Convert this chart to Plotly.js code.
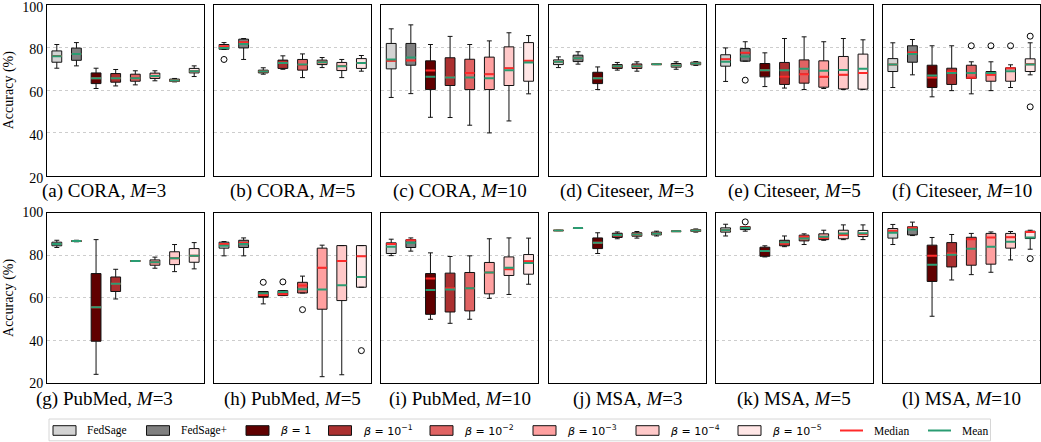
<!DOCTYPE html>
<html>
<head>
<meta charset="utf-8">
<script src="https://cdn.plot.ly/plotly-3.0.1.min.js"></script>
<style>
  html, body { margin: 0; padding: 0; background: #fff; }
  #chart { width: 1041px; height: 442px; }
</style>
</head>
<body>
<div id="chart"></div>
<script>
// Methods compared in every panel (box order left to right)
const categories = ['FedSage', 'FedSage+', 'β=1', 'β=1e-1', 'β=1e-2', 'β=1e-3', 'β=1e-4', 'β=1e-5'];
const legendLabels = ['FedSage', 'FedSage+', '<i>β</i> = 1', '<i>β</i> = 10<sup>−1</sup>',
  '<i>β</i> = 10<sup>−2</sup>', '<i>β</i> = 10<sup>−3</sup>', '<i>β</i> = 10<sup>−4</sup>', '<i>β</i> = 10<sup>−5</sup>'];

// Panels: dataset and number of clients M
const panelLetters = ['a', 'b', 'c', 'd', 'e', 'f', 'g', 'h', 'i', 'j', 'k', 'l'];
const datasets = ['CORA', 'CORA', 'CORA', 'Citeseer', 'Citeseer', 'Citeseer',
  'PubMed', 'PubMed', 'PubMed', 'MSA', 'MSA', 'MSA'];
const clients = [3, 5, 10, 3, 5, 10, 3, 5, 10, 3, 5, 10];
const yTicks = [20, 40, 60, 80, 100];

// Box statistics, accuracy (%), one row per panel, one column per method
const lowWhisker = [
  [70.3, 71.4, 60.8, 62.0, 62.5, 64.4, 63.9, 66.4],
  [79.1, 74.4, 67.5, 69.8, 65.9, 70.6, 65.9, 68.9],
  [56.6, 58.4, 47.3, 47.2, 43.6, 40.0, 45.6, 58.3],
  [70.6, 72.2, 60.3, 69.4, 68.9, 72.0, 69.8, 71.6],
  [64.1, 73.6, 61.7, 61.0, 60.3, 60.8, 60.3, 60.3],
  [61.25, 67.2, 56.9, 59.8, 58.3, 59.8, 61.25, 67.2],
  [83.6, 86.3, 24.2, 59.5, 77.1, 73.9, 72.3, 73.6],
  [79.7, 79.7, 57.2, 61.1, 62.3, 23.1, 24.0, 65.0],
  [79.8, 81.9, 50.0, 48.1, 50.0, 59.8, 61.6, 66.4],
  [91.5, 92.6, 80.8, 87.7, 88.0, 89.0, 91.1, 90.8],
  [89.0, 91.25, 79.2, 84.0, 85.0, 87.0, 87.3, 87.3],
  [85.0, 89.2, 51.4, 68.4, 70.9, 72.0, 77.8, 82.8]
];
const q1 = [
  [73.1, 74.0, 63.1, 63.75, 64.2, 65.5, 64.1, 68.1],
  [79.2, 79.8, 68.1, 70.2, 69.4, 72.0, 69.2, 70.2],
  [70.0, 71.7, 60.3, 62.2, 60.3, 60.3, 62.2, 64.2],
  [72.0, 73.4, 63.1, 70.2, 70.2, 72.1, 70.8, 71.9],
  [71.25, 73.6, 66.25, 62.7, 63.3, 61.4, 60.6, 60.5],
  [68.75, 73.1, 61.25, 62.7, 65.5, 64.2, 64.2, 68.75],
  [84.4, 86.4, 39.7, 63.0, 77.2, 75.3, 75.6, 76.7],
  [83.3, 83.6, 60.3, 61.1, 62.3, 54.7, 58.75, 65.0],
  [80.8, 83.6, 52.3, 53.4, 53.9, 61.9, 70.5, 71.1],
  [91.55, 92.65, 83.1, 88.3, 88.9, 89.5, 91.2, 91.1],
  [90.8, 92.0, 79.5, 84.4, 86.7, 87.3, 87.7, 88.75],
  [88.0, 89.5, 67.7, 74.5, 75.3, 75.8, 83.3, 87.8]
];
const median = [
  [76.0, 77.0, 65.6, 65.6, 65.6, 66.6, 64.5, 68.9],
  [80.6, 82.5, 68.75, 72.8, 71.8, 73.1, 71.3, 72.7],
  [73.75, 73.9, 69.2, 66.1, 68.1, 67.5, 70.3, 73.75],
  [73.3, 75.0, 65.6, 71.25, 71.25, 72.2, 71.6, 72.5],
  [74.5, 77.5, 69.4, 66.25, 67.5, 66.25, 67.2, 68.0],
  [72.0, 77.7, 65.9, 68.9, 65.8, 67.2, 70.3, 72.2],
  [85.3, 86.6, 55.6, 66.6, 77.3, 76.7, 78.6, 79.8],
  [85.3, 85.8, 61.4, 61.7, 65.8, 74.1, 77.3, 79.5],
  [85.2, 87.0, 69.1, 64.5, 64.5, 71.9, 73.4, 77.2],
  [91.6, 92.7, 85.8, 89.5, 89.7, 90.0, 91.25, 91.6],
  [91.7, 93.0, 82.0, 85.5, 88.6, 88.1, 89.5, 89.8],
  [91.4, 92.8, 79.8, 80.8, 87.5, 88.3, 88.4, 90.9]
];
const q3 = [
  [78.4, 79.7, 68.1, 67.8, 67.5, 68.0, 65.2, 70.2],
  [81.4, 83.9, 69.4, 74.1, 74.4, 74.1, 73.0, 74.8],
  [81.9, 81.9, 73.75, 75.2, 74.5, 75.5, 80.3, 82.3],
  [74.2, 76.4, 68.4, 72.0, 72.3, 72.3, 72.5, 73.1],
  [76.6, 79.5, 72.5, 73.0, 74.2, 73.75, 75.8, 76.9],
  [74.8, 80.8, 71.7, 70.3, 71.7, 68.75, 70.5, 74.7],
  [86.1, 86.8, 71.4, 69.8, 77.4, 77.8, 81.6, 83.1],
  [86.1, 87.0, 63.0, 63.4, 67.3, 83.3, 84.5, 84.5],
  [85.8, 87.3, 71.4, 71.6, 71.9, 76.6, 79.2, 80.3],
  [91.65, 92.75, 88.1, 90.3, 90.5, 90.8, 91.3, 92.0],
  [92.8, 93.4, 83.75, 87.0, 89.4, 90.0, 91.7, 91.6],
  [92.5, 93.3, 84.7, 85.9, 88.4, 90.2, 90.2, 91.25]
];
const highWhisker = [
  [81.4, 82.3, 70.3, 69.7, 69.1, 69.1, 65.5, 71.4],
  [82.3, 84.2, 70.5, 76.1, 77.0, 75.3, 74.4, 76.25],
  [88.75, 90.6, 81.4, 85.2, 81.4, 83.1, 86.9, 85.6],
  [75.6, 78.0, 70.9, 73.0, 73.3, 72.4, 73.3, 73.4],
  [79.8, 82.7, 77.5, 84.2, 85.0, 82.7, 84.2, 83.6],
  [82.2, 83.75, 80.8, 80.8, 73.3, 73.3, 71.9, 82.2],
  [87.0, 87.0, 87.3, 73.4, 77.5, 79.1, 85.0, 85.9],
  [86.4, 88.1, 63.0, 63.4, 70.2, 84.7, 84.5, 84.5],
  [87.5, 88.1, 81.1, 79.4, 79.7, 87.7, 88.1, 88.0],
  [91.7, 92.8, 90.5, 90.9, 91.1, 91.25, 91.4, 92.3],
  [94.5, 93.4, 84.4, 89.0, 90.0, 91.7, 94.2, 94.2],
  [94.4, 95.5, 88.3, 89.7, 90.2, 90.9, 91.1, 91.7]
];
const mean = [
  [75.9, 77.0, 65.6, 65.6, 65.6, 66.6, 64.5, 68.9],
  [79.8, 81.6, 68.75, 72.7, 72.0, 73.1, 71.25, 72.7],
  [74.4, 75.3, 66.25, 65.9, 65.9, 65.6, 69.4, 73.0],
  [73.3, 75.0, 65.6, 71.25, 71.25, 72.2, 71.6, 72.5],
  [73.3, 75.8, 69.4, 69.4, 70.0, 69.1, 69.5, 70.0],
  [72.0, 77.0, 66.9, 68.0, 68.1, 68.0, 68.9, 72.0],
  [85.3, 86.6, 55.6, 66.6, 77.3, 76.7, 78.6, 79.8],
  [84.4, 85.2, 62.2, 62.8, 64.1, 63.9, 65.9, 69.8],
  [83.9, 85.8, 63.75, 63.9, 64.5, 71.9, 74.1, 76.4],
  [91.6, 92.7, 85.8, 89.5, 89.7, 90.0, 91.25, 91.6],
  [91.7, 92.7, 82.0, 86.1, 87.8, 88.6, 90.2, 90.3],
  [90.5, 92.0, 75.5, 80.2, 83.0, 83.9, 86.25, 88.3]
];
// Fliers per panel: [method index, accuracy]
const outliers = [
  [],
  [[0, 74.4]],
  [],
  [],
  [[1, 64.7]],
  [[4, 80.8], [5, 80.8], [6, 80.8], [7, 85.3], [7, 52.2]],
  [],
  [[2, 67.3], [3, 67.5], [4, 54.5], [7, 35.3]],
  [],
  [],
  [[1, 95.6]],
  [[7, 78.4]]
];

// Styling
const boxColors = ['#d3d3d3', '#808080', '#600000', '#ab3030', '#e06363', '#ffa0a0', '#ffc9c9', '#ffe6e6'];
const medianColor = '#ff2a2a';
const meanColor = '#2a9c72';
const W = 1041, H = 442;
const colLeft = [47, 214.2, 381.4, 548.6, 715.8, 883];
const panelW = 157;
const rowTop = [4.8, 212.5];
const panelH = 170.8;
const titleY = [190.5, 398.5];
const labelShift = [2, 0];
const serif = 'Liberation Serif, Times New Roman, serif';
const sans = 'DejaVu Sans, sans-serif';
const boxWidth = 0.5;

const px = v => v / W;
const py = v => 1 - v / H;

const traces = [];
const layout = {
  width: W, height: H,
  margin: {l: 0, r: 0, t: 0, b: 0},
  paper_bgcolor: '#ffffff',
  plot_bgcolor: '#ffffff',
  showlegend: false,
  boxmode: 'overlay',
  annotations: [],
  shapes: []
};

for (let k = 0; k < 12; k++) {
  const row = Math.floor(k / 6), col = k % 6;
  const suffix = k === 0 ? '' : String(k + 1);
  const xa = 'x' + suffix, ya = 'y' + suffix;

  layout['xaxis' + suffix] = {
    domain: [px(colLeft[col]), px(colLeft[col] + panelW)],
    anchor: ya,
    range: [0.5, 8.5],
    showticklabels: false, ticks: '', showgrid: false, zeroline: false,
    showline: true, mirror: true, linecolor: '#000', linewidth: 1,
    fixedrange: true
  };
  const yax = {
    domain: [py(rowTop[row] + panelH), py(rowTop[row])],
    anchor: xa,
    range: [20, 100],
    tickvals: yTicks,
    ticktext: yTicks.map(String),
    showgrid: true, gridcolor: '#cdcdcd', griddash: 'dot', gridwidth: 1,
    zeroline: false, ticks: '',
    showline: true, mirror: true, linecolor: '#000', linewidth: 1,
    showticklabels: col === 0,
    ticklabeloverflow: 'allow',
    ticklabelshift: labelShift[row],
    tickfont: {family: serif, size: 14, color: '#000'},
    fixedrange: true
  };
  if (col === 0) {
    yax.title = {text: 'Accuracy (%)', font: {family: serif, size: 14, color: '#000'}, standoff: 5};
  }
  layout['yaxis' + suffix] = yax;

  // boxes with whiskers
  for (let c = 0; c < categories.length; c++) {
    traces.push({
      type: 'box', xaxis: xa, yaxis: ya, name: categories[c],
      x: [c + 1],
      q1: [q1[k][c]], median: [median[k][c]], q3: [q3[k][c]],
      lowerfence: [lowWhisker[k][c]], upperfence: [highWhisker[k][c]],
      width: boxWidth, whiskerwidth: 0.5,
      fillcolor: boxColors[c],
      line: {color: '#111', width: 1},
      boxpoints: false, hoverinfo: 'skip', showlegend: false
    });
  }

  // median and mean bars across each box
  const segs = (vals) => {
    const xs = [], ys = [];
    vals.forEach((v, c) => {
      xs.push(c + 1 - boxWidth / 2, c + 1 + boxWidth / 2, null);
      ys.push(v, v, null);
    });
    return {xs, ys};
  };
  const m = segs(median[k]);
  traces.push({type: 'scatter', mode: 'lines', xaxis: xa, yaxis: ya, x: m.xs, y: m.ys,
    line: {color: medianColor, width: 2}, hoverinfo: 'skip', showlegend: false});
  const a = segs(mean[k]);
  traces.push({type: 'scatter', mode: 'lines', xaxis: xa, yaxis: ya, x: a.xs, y: a.ys,
    line: {color: meanColor, width: 2}, hoverinfo: 'skip', showlegend: false});

  // fliers
  if (outliers[k].length) {
    traces.push({type: 'scatter', mode: 'markers', xaxis: xa, yaxis: ya,
      x: outliers[k].map(o => o[0] + 1), y: outliers[k].map(o => o[1]),
      marker: {symbol: 'circle-open', size: 6, color: '#000', line: {width: 1, color: '#000'}},
      hoverinfo: 'skip', showlegend: false});
  }

  // panel caption
  const cx = col === 0 ? 104 : colLeft[col] + panelW / 2;
  layout.annotations.push({
    xref: 'paper', yref: 'paper', x: px(cx), y: py(titleY[row]),
    xanchor: 'center', yanchor: 'middle', showarrow: false,
    text: `(${panelLetters[k]}) ${datasets[k]}, <i>M</i>=${clients[k]}`,
    font: {family: serif, size: 19, color: '#000'}
  });
}

// Legend row along the bottom
layout.shapes.push({
  type: 'rect', xref: 'paper', yref: 'paper',
  x0: px(49), x1: px(990.5), y0: py(440.8), y1: py(419),
  line: {color: '#d6d6d6', width: 1}, fillcolor: 'rgba(255,255,255,0.8)', layer: 'below'
});
const patchX = [53, 146.5, 246, 328.5, 430, 533, 636, 738];
const patchW = 23, patchY0 = 425.7, patchY1 = 435.3, legendMid = 430.5;
categories.forEach((cat, c) => {
  layout.shapes.push({
    type: 'rect', xref: 'paper', yref: 'paper',
    x0: px(patchX[c]), x1: px(patchX[c] + patchW), y0: py(patchY1), y1: py(patchY0),
    fillcolor: boxColors[c], line: {color: '#111', width: 1}
  });
  layout.annotations.push({
    xref: 'paper', yref: 'paper', x: px(patchX[c] + 32), y: py(legendMid),
    xanchor: 'left', yanchor: 'middle', showarrow: false,
    text: legendLabels[c],
    font: {family: c < 2 ? serif : sans, size: c < 2 ? 11.5 : 11, color: '#000'}
  });
});
const lineKeys = [
  {x: 840, color: medianColor, label: 'Median'},
  {x: 928, color: meanColor, label: 'Mean'}
];
lineKeys.forEach(k => {
  layout.shapes.push({
    type: 'line', xref: 'paper', yref: 'paper',
    x0: px(k.x), x1: px(k.x + 23), y0: py(legendMid), y1: py(legendMid),
    line: {color: k.color, width: 2}
  });
  layout.annotations.push({
    xref: 'paper', yref: 'paper', x: px(k.x + 32), y: py(legendMid),
    xanchor: 'left', yanchor: 'middle', showarrow: false,
    text: k.label, font: {family: serif, size: 11.5, color: '#000'}
  });
});

Plotly.newPlot('chart', traces, layout, {staticPlot: true, displayModeBar: false});
</script>
</body>
</html>
